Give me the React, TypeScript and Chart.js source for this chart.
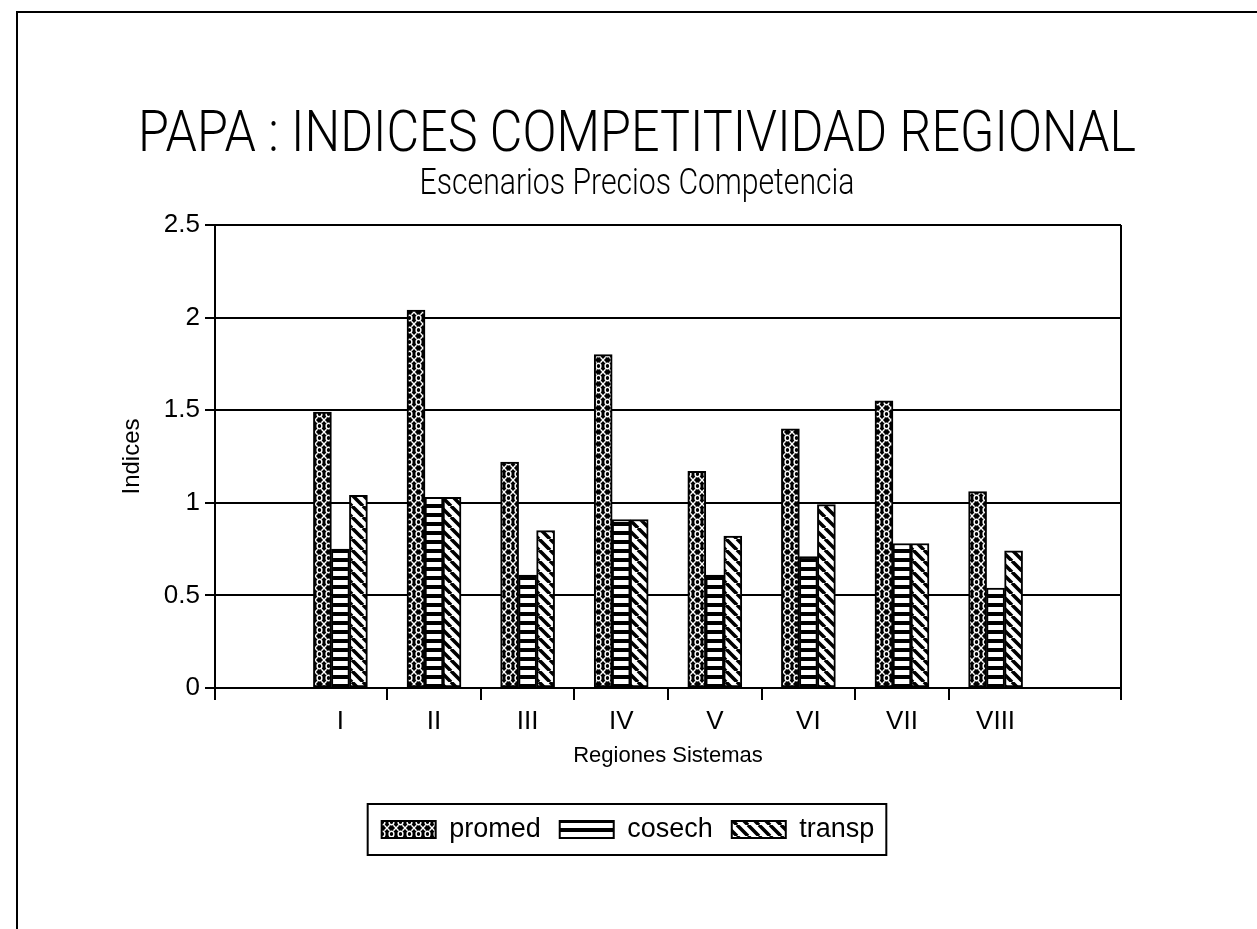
import React, { useEffect, useRef } from 'react';
import { Chart, registerables } from 'chart.js';

Chart.register(...registerables);

// ---- data ----
const regions = ['I', 'II', 'III', 'IV', 'V', 'VI', 'VII', 'VIII'];
const promed = [1.49, 2.04, 1.22, 1.8, 1.17, 1.4, 1.55, 1.06];
const cosech = [0.75, 1.03, 0.61, 0.91, 0.61, 0.71, 0.78, 0.54];
const transp = [1.04, 1.03, 0.85, 0.91, 0.82, 0.99, 0.78, 0.74];
const seriesNames = ['promed', 'cosech', 'transp'];
const yTickValues = [0, 0.5, 1, 1.5, 2, 2.5];

const titleText = 'PAPA : INDICES COMPETITIVIDAD REGIONAL';
const subtitleText = 'Escenarios Precios Competencia';
const xTitle = 'Regiones Sistemas';
const yTitle = 'Indices';

const SANS = '"Liberation Sans", Arial, sans-serif';
const THIN = 'Roboto, "Liberation Sans", Arial, sans-serif';

const X_MIN = -0.34;
const X_MAX = regions.length + 1.34;

function makePattern(w: number, h: number, draw: (g: CanvasRenderingContext2D) => void) {
  const c = document.createElement('canvas');
  c.width = w;
  c.height = h;
  const g = c.getContext('2d') as CanvasRenderingContext2D;
  draw(g);
  return g.createPattern(c, 'repeat') as CanvasPattern;
}

// headings drawn as real canvas text, horizontally condensed like the original plotter font
const headings = {
  id: 'headings',
  afterDraw(chart: any) {
    const ctx = chart.ctx;
    const cx = 637;
    ctx.save();
    ctx.fillStyle = '#000';
    ctx.textAlign = 'center';
    ctx.textBaseline = 'alphabetic';
    ctx.font = `300 57px ${THIN}`;
    ctx.fillText(titleText, cx, 151, 998);
    ctx.font = `300 36px ${THIN}`;
    ctx.fillText(subtitleText, cx, 194, 435);
    ctx.restore();
  },
};

const legendBox = {
  id: 'legendBox',
  afterDraw(chart: any) {
    const boxes = chart.legend && chart.legend.legendHitBoxes;
    if (!boxes || !boxes.length) return;
    const l = Math.min(...boxes.map((b: any) => b.left)) - 14;
    const r = Math.max(...boxes.map((b: any) => b.left + b.width)) + 12;
    const t = Math.min(...boxes.map((b: any) => b.top)) - 12;
    const bt = Math.max(...boxes.map((b: any) => b.top + b.height)) + 12;
    const ctx = chart.ctx;
    ctx.save();
    ctx.strokeStyle = '#000';
    ctx.lineWidth = 2;
    ctx.strokeRect(l, t, r - l, bt - t);
    ctx.restore();
  },
};

export default function App() {
  const ref = useRef<HTMLCanvasElement | null>(null);

  useEffect(() => {
    if (!ref.current) return;

    const pPromed = makePattern(9, 12, (g) => {
      g.fillStyle = '#000';
      g.fillRect(0, 0, 9, 12);
      g.strokeStyle = '#fff';
      g.lineWidth = 1.4;
      g.beginPath();
      g.ellipse(4.5, 6, 2.4, 2.8, 0, 0, Math.PI * 2);
      g.stroke();
      g.beginPath();
      g.moveTo(0, 0); g.lineTo(2.6, 2.8);
      g.moveTo(9, 0); g.lineTo(6.4, 2.8);
      g.moveTo(0, 12); g.lineTo(2.6, 9.2);
      g.moveTo(9, 12); g.lineTo(6.4, 9.2);
      g.stroke();
    });
    const pCosech = makePattern(4, 9, (g) => {
      g.fillStyle = '#fff';
      g.fillRect(0, 0, 4, 9);
      g.fillStyle = '#000';
      g.fillRect(0, 0, 4, 4);
    });
    const pTransp = makePattern(11, 11, (g) => {
      g.fillStyle = '#fff';
      g.fillRect(0, 0, 11, 11);
      g.strokeStyle = '#000';
      g.lineWidth = 3.6;
      g.beginPath();
      for (const k of [-11, 0, 11]) {
        g.moveTo(k, 0);
        g.lineTo(k + 11, 11);
      }
      g.stroke();
    });

    const patterns = [pPromed, pCosech, pTransp];
    const values = [promed, cosech, transp];

    const boundaryTicks = [X_MIN, ...regions.slice(1).map((_, i) => i + 1.5), X_MAX];
    const labelTicks = regions.map((_, i) => i + 1);
    const allTicks = [...boundaryTicks, ...labelTicks].sort((a, b) => a - b);

    const chart = new Chart(ref.current, {
      type: 'bar',
      data: {
        datasets: seriesNames.map((name, s) => ({
          label: name,
          data: values[s].map((v, i) => ({ x: i + 1, y: v })),
          backgroundColor: patterns[s],
          borderColor: '#000',
          borderWidth: 2,
          borderSkipped: false,
          barThickness: 18,
        })),
      },
      options: {
        animation: false,
        responsive: false,
        layout: { padding: { left: 135, right: 136, top: 225, bottom: 76 } },
        plugins: {
          title: { display: false },
          subtitle: { display: false },
          legend: {
            display: true,
            position: 'bottom',
            labels: {
              color: '#000',
              font: { family: SANS, size: 27 },
              boxWidth: 54,
              boxHeight: 17,
              padding: 19,
            },
          },
          tooltip: { enabled: false },
        },
        scales: {
          x: {
            type: 'linear',
            min: X_MIN,
            max: X_MAX,
            offset: false,
            grid: {
              offset: false,
              drawOnChartArea: true,
              color: (c: any) => (c.tick && c.tick.value === X_MAX ? '#000' : 'rgba(0,0,0,0)'),
              tickColor: (c: any) =>
                c.tick && !Number.isInteger(c.tick.value) ? '#000' : 'rgba(0,0,0,0)',
              lineWidth: 2,
              tickWidth: 2,
              tickLength: 12,
            },
            border: { display: true, color: '#000', width: 2 },
            afterBuildTicks: (scale: any) => {
              scale.ticks = allTicks.map((v) => ({ value: v }));
            },
            ticks: {
              autoSkip: false,
              maxRotation: 0,
              minRotation: 0,
              padding: 6,
              color: '#000',
              font: { family: SANS, size: 26 },
              callback: (v: any) => {
                const n = Number(v);
                return Number.isInteger(n) && n >= 1 && n <= regions.length ? regions[n - 1] : '';
              },
            },
            title: {
              display: true,
              text: xTitle,
              color: '#000',
              font: { family: SANS, size: 22 },
              padding: { top: 0, bottom: 28 },
            },
            afterFit: (s: any) => {
              s.height = 109;
            },
          },
          y: {
            min: 0,
            max: 2.5,
            afterBuildTicks: (scale: any) => {
              scale.ticks = yTickValues.map((v) => ({ value: v }));
            },
            ticks: {
              color: '#000',
              padding: 5,
              font: { family: SANS, size: 26 },
              callback: (v: any) => String(v),
            },
            grid: { color: '#000', lineWidth: 2, tickLength: 10 },
            border: { display: true, color: '#000', width: 2 },
            title: {
              display: true,
              text: yTitle,
              color: '#000',
              font: { family: SANS, size: 24 },
              padding: { top: -17, bottom: 0 },
            },
            afterFit: (s: any) => {
              s.width = 80;
            },
          },
        },
      },
      plugins: [headings, legendBox],
    } as any);

    return () => chart.destroy();
  }, []);

  return (
    <div
      style={{
        position: 'absolute',
        left: 0,
        top: 0,
        width: 1257,
        height: 929,
        background: '#fff',
        overflow: 'hidden',
      }}
    >
      <canvas ref={ref} width={1257} height={929} style={{ display: 'block' }} />
      <div
        style={{
          position: 'absolute',
          left: 16,
          top: 11,
          width: 1241,
          height: 918,
          borderTop: '2px solid #000',
          borderLeft: '2px solid #000',
          boxSizing: 'border-box',
          pointerEvents: 'none',
        }}
      />
    </div>
  );
}
